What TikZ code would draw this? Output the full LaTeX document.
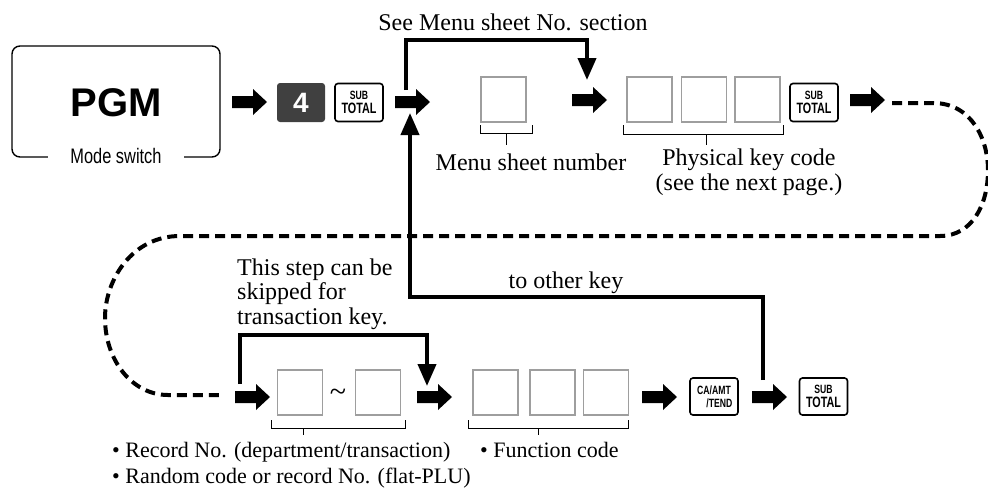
\documentclass[tikz,border=0pt]{standalone}
\usepackage{fontspec}
\setmainfont{Liberation Serif}
\newfontfamily\sansf{Liberation Sans}
\newfontfamily\condf[FakeStretch=0.78]{Liberation Sans}
\newfontfamily\keyf[FakeStretch=0.72]{Liberation Sans}
\usetikzlibrary{arrows.meta}
\newcommand\barrow[2]{\fill (#1,#2) ++(0,-6) -- ++(21,0) -- ++(0,-7) -- ++(14,13) -- ++(-14,13) -- ++(0,-7) -- ++(-21,0) -- cycle;}
\newcommand\subtotal{{\fontsize{12}{14}\selectfont SUB}\\{\fontsize{15}{14}\selectfont TOTAL}}
\begin{document}
\begin{tikzpicture}[x=1pt,y=-1pt,line join=miter,
  conn/.style={line width=4pt,-{Triangle[length=22pt,width=18pt]}},
  loopline/.style={line width=4pt,dash pattern=on 10pt off 6pt},
  keybox/.style={draw,line width=1.6pt,rounded corners=3pt,minimum width=48pt,minimum height=38pt,inner sep=0pt,align=center,font=\keyf\bfseries\fontsize{12}{14}\selectfont},
  entry/.style={draw=black!38,line width=1.6pt,minimum width=45pt,minimum height=45pt,inner sep=0pt},
  brk/.style={line width=1pt},
  lbl/.style={font=\fontsize{24}{24.5}\selectfont,inner sep=0pt},
  note/.style={font=\fontsize{22}{24}\selectfont,inner sep=0pt,anchor=west},
]
\useasboundingbox (0,0) rectangle (988,491);

% PGM mode switch
\node[draw,line width=1.4pt,rounded corners=8pt,minimum width=208pt,minimum height=111pt] (pgm) at (116,101.5) {};
\node[font=\sansf\bfseries\fontsize{40}{40}\selectfont,inner sep=0pt] (pgmtxt) at (116,103) {PGM};
\node[fill=white,font=\condf\fontsize{21}{21}\selectfont,inner xsep=22pt,inner ysep=2pt] (mode) at (116,156) {Mode switch};

\barrow{232}{102}
\node[fill=black!75,rounded corners=3pt,minimum width=48pt,minimum height=39pt,text=white,font=\sansf\bfseries\fontsize{28}{28}\selectfont,inner sep=0pt] (k4) at (301,102.5) {4};
\node[keybox] (st1) at (359,102.5) {\subtotal};
\barrow{395}{102}

% menu sheet number
\node[entry] (msn) at (503.5,99.5) {};
\draw[brk] (480,125) |- (532,133) -- (532,125);
\draw[brk] (506,133) -- (506,145);
\node[lbl] (msnt) at (531,162) {Menu sheet number};
\barrow{572}{100}

% physical key code
\node[entry] (p1) at (649.5,99.5) {};
\node[entry] (p2) at (704,99.5) {};
\node[entry] (p3) at (757.5,99.5) {};
\draw[brk] (623,125) |- (783,134) -- (783,125);
\draw[brk] (706,134) -- (706,145);
\node[lbl,align=center] (pkc) at (749,172.5) {Physical key code\\(see the next page.)};
\node[keybox] (st2) at (814,102.5) {\subtotal};
\barrow{850}{100}

% see menu sheet connector
\node[lbl] (see) at (513,22) {See Menu sheet No. section};
\coordinate (topstart) at (406,90);
\coordinate (topend) at (587,80);
\draw[conn] (topstart) -- ++(0,-50) -| (topend);

% dashed loop
\coordinate (ls) at (892,103);
\coordinate (le) at (219,395);
\draw[loopline] (ls) -- (933,103) .. controls (972,103) and (988,140) .. (988,170)
  .. controls (988,205) and (972,236) .. (940,236) -- (180,236)
  .. controls (132,236) and (105,280) .. (105,318)
  .. controls (105,360) and (132,395) .. (168,395) -- (le);

% bottom row
\barrow{235}{397}
\node[entry] (r1) at (300,392.5) {};
\node[font=\fontsize{30}{30}\selectfont,inner sep=0pt] (tilde) at (338,395) {\textasciitilde};
\node[entry] (r2) at (378,392.5) {};
\draw[brk] (271,420) |- (405,428) -- (405,420);
\draw[brk] (303,428) -- (303,435);
\barrow{417}{397}

\node[entry] (f1) at (495.5,392.5) {};
\node[entry] (f2) at (552.5,392.5) {};
\node[entry] (f3) at (606,392.5) {};
\draw[brk] (468,420) |- (628,428) -- (628,420);
\draw[brk] (538,428) -- (538,435);
\barrow{642}{397}

\node[keybox,minimum height=37pt,font=\keyf\bfseries\fontsize{12}{13}\selectfont] (ca) at (714,396.5) {CA/AMT\\\hspace*{0.9em}/TEND};
\barrow{752}{397}
\node[keybox,minimum height=37pt] (st3) at (823.5,396.5) {\subtotal};

% skip connector
\node[lbl,align=left,anchor=west] (skip) at (237,294) {This step can be\\skipped for\\transaction key.};
\coordinate (skipstart) at (240,384);
\coordinate (skipend) at (427,386);
\draw[conn] (skipstart) -- ++(0,-49) -| (skipend);

% other key connector
\node[lbl] (other) at (566,283) {to other key};
\coordinate (otherstart) at (763,380);
\coordinate (otherend) at (410,113);
\draw[conn] (otherstart) -- ++(0,-83) -| (otherend);

% notes
\node[note] (n1) at (112,452) {\textbullet\ Record No. (department/transaction)};
\node[note] (n2) at (112,478) {\textbullet\ Random code or record No. (flat-PLU)};
\node[note] (n3) at (480,450) {\textbullet\ Function code};
\end{tikzpicture}
\end{document}
